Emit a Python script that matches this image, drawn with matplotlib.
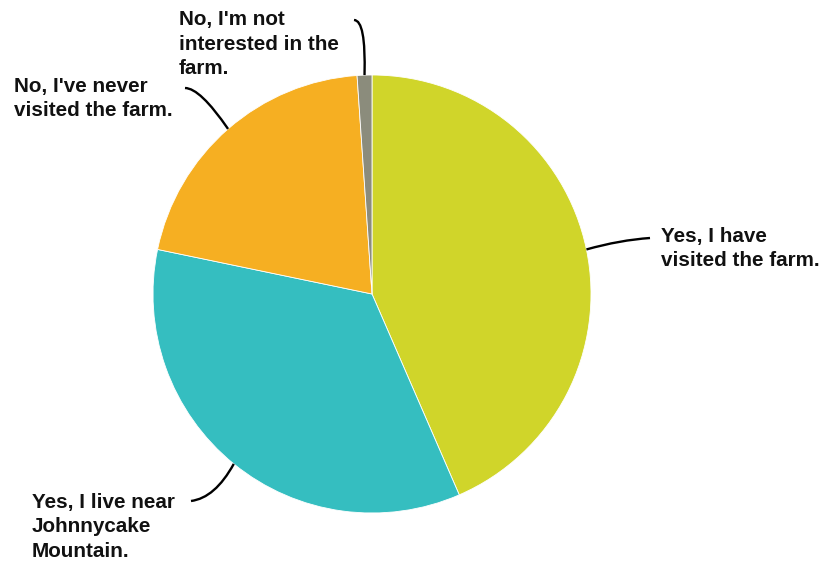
import matplotlib.pyplot as plt
from matplotlib.path import Path
from matplotlib.patches import PathPatch
import numpy as np

# survey answers (clockwise from top)
labels = ["Yes, I have\nvisited the farm.",
          "Yes, I live near\nJohnnycake\nMountain.",
          "No, I've never\nvisited the farm.",
          "No, I'm not\ninterested in the\nfarm."]
counts = [40, 32, 19, 1]
colors = ["#d0d52a", "#35bec0", "#f6af22", "#8b8c7c"]

W, H = 826, 566
cx, cy, r = 372, H - 294, 219

fig = plt.figure(figsize=(W / 100, H / 100), dpi=100)
ax = fig.add_axes([0, 0, 1, 1])

wedges, _ = ax.pie(counts, colors=colors, startangle=90, counterclock=False,
                   center=(cx, cy), radius=r,
                   wedgeprops=dict(linewidth=0.6, edgecolor="white"))
# pie() resets the limits, so set them afterwards
ax.set_xlim(0, W)
ax.set_ylim(0, H)
ax.set_aspect("equal")
ax.axis("off")

# label layout: (text x, first baseline y in pixels, leader end, control point)
layout = [
    (661, 242, (650, 238), (620, 240)),
    (32, 508, (191, 501), (215, 498)),
    (14, 92, (185, 88), (200, 88)),
    (179, 25, (354, 20), (366, 20)),
]
line_gap = 24.5

for w, lab, (tx, by, end, ctrl) in zip(wedges, labels, layout):
    ang = np.deg2rad((w.theta1 + w.theta2) / 2)
    sx = cx + r * np.cos(ang)
    sy = cy + r * np.sin(ang)
    ex, ey = end[0], H - end[1]
    qx, qy = ctrl[0], H - ctrl[1]
    p = Path([(sx, sy), (qx, qy), (ex, ey)],
             [Path.MOVETO, Path.CURVE3, Path.CURVE3])
    ax.add_patch(PathPatch(p, fill=False, lw=1.7, color="black"))
    for i, line in enumerate(lab.split("\n")):
        ax.text(tx, H - (by + i * line_gap), line, ha="left", va="baseline",
                fontsize=14.9, fontweight="bold", family="Liberation Sans",
                color="#111111")

fig.savefig("out.png", dpi=100)
